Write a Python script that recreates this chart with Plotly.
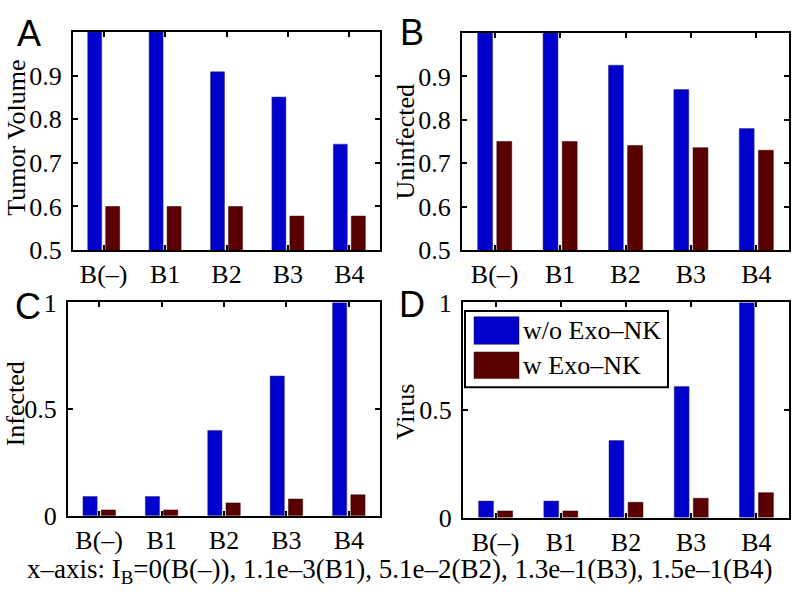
import plotly.graph_objects as go

categories = ["B(–)", "B1", "B2", "B3", "B4"]
series_names = ["w/o Exo–NK", "w Exo–NK"]

tumor_wo = [1.0, 1.0, 0.909, 0.851, 0.743]
tumor_w = [0.60, 0.60, 0.60, 0.578, 0.578]
uninf_wo = [1.0, 1.0, 0.926, 0.870, 0.780]
uninf_w = [0.750, 0.750, 0.741, 0.736, 0.730]
inf_wo = [0.090, 0.090, 0.400, 0.655, 1.0]
inf_w = [0.027, 0.027, 0.060, 0.078, 0.098]
virus_wo = [0.077, 0.077, 0.358, 0.609, 1.0]
virus_w = [0.031, 0.031, 0.071, 0.090, 0.116]

panel_titles = ["Tumor Volume", "Uninfected", "Infected", "Virus"]
panel_letters = ["A", "B", "C", "D"]
caption = "x–axis: I<sub>B</sub>=0(B(–)), 1.1e–3(B1), 5.1e–2(B2), 1.3e–1(B3), 1.5e–1(B4)"

BLUE = "#0000CC"
RED = "#5A0000"
SERIF = "Liberation Serif, Times New Roman, serif"
SANS = "Liberation Sans, Arial, sans-serif"

W, H = 796, 604

def px(x):
    return x / W

def py(y):
    return 1 - y / H

panels = [
    dict(data=(tumor_wo, tumor_w), xd=(73, 380), yd=(19, 248), rng=[0.5, 1.0],
         tv=[0.5, 0.6, 0.7, 0.8, 0.9], tt=["0.5", "0.6", "0.7", "0.8", "0.9"],
         title_pos=(17, 130)),
    dict(data=(uninf_wo, uninf_w), xd=(462, 789), yd=(20, 248), rng=[0.5, 1.0],
         tv=[0.5, 0.6, 0.7, 0.8, 0.9], tt=["0.5", "0.6", "0.7", "0.8", "0.9"],
         title_pos=(406, 134)),
    dict(data=(inf_wo, inf_w), xd=(68, 380), yd=(303, 527), rng=[0, 1.0],
         tv=[0, 0.5, 1], tt=["0", "0.5", "1"],
         title_pos=(15, 410)),
    dict(data=(virus_wo, virus_w), xd=(463, 789), yd=(303, 529), rng=[0, 1.0],
         tv=[0, 0.5, 1], tt=["0", "0.5", "1"],
         title_pos=(406, 418)),
]

fig = go.Figure()
layout = dict(
    width=W, height=H, margin=dict(l=0, r=0, t=0, b=0),
    paper_bgcolor="white", plot_bgcolor="white",
    barmode="group", bargap=0.414, bargroupgap=0.222,
    showlegend=False,
    font=dict(family=SERIF, size=26, color="black"),
)

annotations = []
shapes = []

for i, p in enumerate(panels):
    k = "" if i == 0 else str(i + 1)
    xa, ya = "x" + k, "y" + k
    for j, (vals, col) in enumerate(zip(p["data"], [BLUE, RED])):
        fig.add_trace(go.Bar(
            x=list(range(1, 6)), y=vals, name=series_names[j],
            marker=dict(color=col, line=dict(color="#333366" if j == 0 else "#330000", width=0.5)),
            xaxis=xa, yaxis=ya, showlegend=False,
        ))
    axcommon = dict(
        showline=True, linecolor="black", linewidth=2, mirror="allticks",
        ticks="inside", ticklen=5, tickwidth=1.5, tickcolor="black",
        showgrid=False, zeroline=False,
        tickfont=dict(family=SERIF, size=26, color="black"),
    )
    layout["xaxis" + k] = dict(
        domain=[px(p["xd"][0]), px(p["xd"][1])], anchor=ya,
        range=[0.5, 5.5], tickvals=list(range(1, 6)), ticktext=categories,
        **axcommon,
    )
    layout["yaxis" + k] = dict(
        domain=[py(p["yd"][1]), py(p["yd"][0])], anchor=xa,
        range=p["rng"], tickvals=p["tv"], ticktext=p["tt"],
        ticklabelstandoff=4,
        **axcommon,
    )
    tx, ty = p["title_pos"]
    annotations.append(dict(
        text=panel_titles[i], x=px(tx), y=py(ty), xref="paper", yref="paper",
        xanchor="center", yanchor="middle", textangle=-90, showarrow=False,
        font=dict(family=SERIF, size=26, color="black"),
    ))

letter_pos = [(28.5, 20), (411.5, 19), (28, 307.5), (412, 305)]
for letter, (lx, ly) in zip(panel_letters, letter_pos):
    annotations.append(dict(
        text=letter, x=px(lx), y=py(ly), xref="paper", yref="paper",
        xanchor="center", yanchor="middle", showarrow=False,
        font=dict(family=SANS, size=36, color="black"),
    ))

annotations.append(dict(
    text=caption, x=px(400), y=py(585), xref="paper", yref="paper",
    xanchor="center", yanchor="middle", showarrow=False,
    font=dict(family=SERIF, size=27, color="black"),
))

# legend drawn in panel D
shapes.append(dict(type="rect", xref="paper", yref="paper",
                   x0=px(465), x1=px(668), y0=py(392), y1=py(312),
                   line=dict(color="black", width=2), fillcolor="white", layer="above"))
for j, (col, y0, y1) in enumerate([(BLUE, 318, 347), (RED, 355, 383)]):
    shapes.append(dict(type="rect", xref="paper", yref="paper",
                       x0=px(474), x1=px(519), y0=py(y1), y1=py(y0),
                       line=dict(color="#222222", width=0.5), fillcolor=col, layer="above"))
    annotations.append(dict(
        text=series_names[j], x=px(521), y=py((y0 + y1) / 2), xref="paper", yref="paper",
        xanchor="left", yanchor="middle", showarrow=False,
        font=dict(family=SERIF, size=26, color="black"),
    ))

layout["annotations"] = annotations
layout["shapes"] = shapes
fig.update_layout(**layout)
fig.write_html(
    "out.html",
    config={"displayModeBar": False},
    post_script="document.body.style.margin='0';document.body.style.padding='0';",
)
